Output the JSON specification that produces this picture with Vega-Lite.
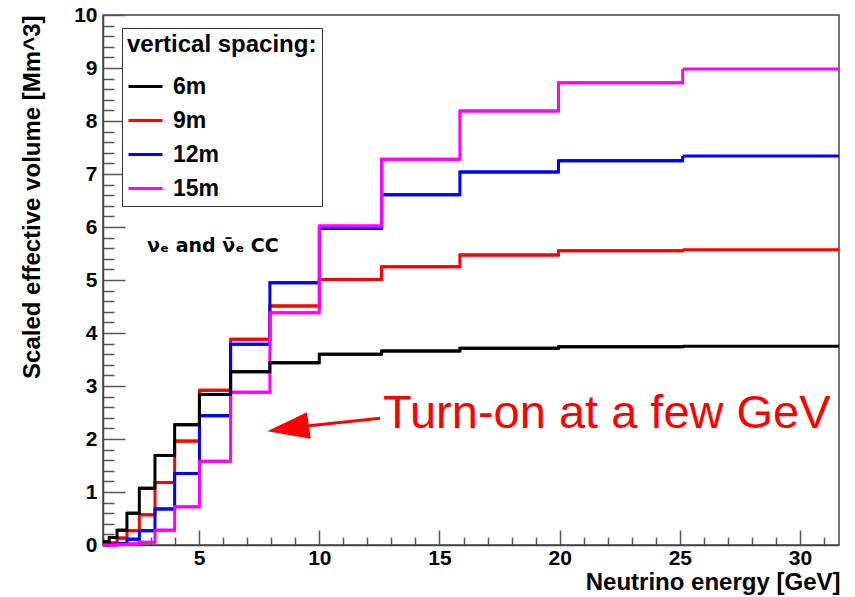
{
  "$schema": "https://vega.github.io/schema/vega-lite/v6.json",
  "width": 736,
  "height": 530,
  "autosize": {"type": "none"},
  "padding": {"left": 103, "top": 15, "right": 16, "bottom": 52},
  "background": "white",
  "config": {"font": "Liberation Sans", "view": {"stroke": "#444", "strokeWidth": 1.5}},
  "datasets": {
    "hist": [
      {"s": "9m", "lo": 1, "hi": 1.2589, "v": 0.01},
      {"s": "9m", "lo": 1.2589, "hi": 1.5849, "v": 0.04},
      {"s": "9m", "lo": 1.5849, "hi": 1.9953, "v": 0.13},
      {"s": "9m", "lo": 1.9953, "hi": 2.5119, "v": 0.27},
      {"s": "9m", "lo": 2.5119, "hi": 3.1623, "v": 0.57},
      {"s": "9m", "lo": 3.1623, "hi": 3.9811, "v": 1.18},
      {"s": "9m", "lo": 3.9811, "hi": 5.0119, "v": 1.96},
      {"s": "9m", "lo": 5.0119, "hi": 6.3096, "v": 2.92},
      {"s": "9m", "lo": 6.3096, "hi": 7.9433, "v": 3.88},
      {"s": "9m", "lo": 7.9433, "hi": 10, "v": 4.51},
      {"s": "9m", "lo": 10, "hi": 12.589, "v": 5.01},
      {"s": "9m", "lo": 12.589, "hi": 15.849, "v": 5.25},
      {"s": "9m", "lo": 15.849, "hi": 19.953, "v": 5.47},
      {"s": "9m", "lo": 19.953, "hi": 25.119, "v": 5.55},
      {"s": "9m", "lo": 25.119, "hi": 31.623, "v": 5.57},
      {"s": "12m", "lo": 1, "hi": 1.2589, "v": 0.0},
      {"s": "12m", "lo": 1.2589, "hi": 1.5849, "v": 0.01},
      {"s": "12m", "lo": 1.5849, "hi": 1.9953, "v": 0.03},
      {"s": "12m", "lo": 1.9953, "hi": 2.5119, "v": 0.11},
      {"s": "12m", "lo": 2.5119, "hi": 3.1623, "v": 0.27},
      {"s": "12m", "lo": 3.1623, "hi": 3.9811, "v": 0.68},
      {"s": "12m", "lo": 3.9811, "hi": 5.0119, "v": 1.35},
      {"s": "12m", "lo": 5.0119, "hi": 6.3096, "v": 2.44},
      {"s": "12m", "lo": 6.3096, "hi": 7.9433, "v": 3.79},
      {"s": "12m", "lo": 7.9433, "hi": 10, "v": 4.95},
      {"s": "12m", "lo": 10, "hi": 12.589, "v": 5.97},
      {"s": "12m", "lo": 12.589, "hi": 15.849, "v": 6.61},
      {"s": "12m", "lo": 15.849, "hi": 19.953, "v": 7.04},
      {"s": "12m", "lo": 19.953, "hi": 25.119, "v": 7.25},
      {"s": "12m", "lo": 25.119, "hi": 31.623, "v": 7.34},
      {"s": "15m", "lo": 1, "hi": 1.2589, "v": 0.0},
      {"s": "15m", "lo": 1.2589, "hi": 1.5849, "v": 0.0},
      {"s": "15m", "lo": 1.5849, "hi": 1.9953, "v": 0.01},
      {"s": "15m", "lo": 1.9953, "hi": 2.5119, "v": 0.02},
      {"s": "15m", "lo": 2.5119, "hi": 3.1623, "v": 0.05},
      {"s": "15m", "lo": 3.1623, "hi": 3.9811, "v": 0.28},
      {"s": "15m", "lo": 3.9811, "hi": 5.0119, "v": 0.72},
      {"s": "15m", "lo": 5.0119, "hi": 6.3096, "v": 1.58},
      {"s": "15m", "lo": 6.3096, "hi": 7.9433, "v": 2.88},
      {"s": "15m", "lo": 7.9433, "hi": 10, "v": 4.38},
      {"s": "15m", "lo": 10, "hi": 12.589, "v": 6.02},
      {"s": "15m", "lo": 12.589, "hi": 15.849, "v": 7.28},
      {"s": "15m", "lo": 15.849, "hi": 19.953, "v": 8.19},
      {"s": "15m", "lo": 19.953, "hi": 25.119, "v": 8.72},
      {"s": "15m", "lo": 25.119, "hi": 31.623, "v": 8.98},
      {"s": "6m", "lo": 1, "hi": 1.2589, "v": 0.06},
      {"s": "6m", "lo": 1.2589, "hi": 1.5849, "v": 0.14},
      {"s": "6m", "lo": 1.5849, "hi": 1.9953, "v": 0.28},
      {"s": "6m", "lo": 1.9953, "hi": 2.5119, "v": 0.6},
      {"s": "6m", "lo": 2.5119, "hi": 3.1623, "v": 1.07},
      {"s": "6m", "lo": 3.1623, "hi": 3.9811, "v": 1.69},
      {"s": "6m", "lo": 3.9811, "hi": 5.0119, "v": 2.27},
      {"s": "6m", "lo": 5.0119, "hi": 6.3096, "v": 2.84},
      {"s": "6m", "lo": 6.3096, "hi": 7.9433, "v": 3.27},
      {"s": "6m", "lo": 7.9433, "hi": 10, "v": 3.44},
      {"s": "6m", "lo": 10, "hi": 12.589, "v": 3.6},
      {"s": "6m", "lo": 12.589, "hi": 15.849, "v": 3.66},
      {"s": "6m", "lo": 15.849, "hi": 19.953, "v": 3.71},
      {"s": "6m", "lo": 19.953, "hi": 25.119, "v": 3.74},
      {"s": "6m", "lo": 25.119, "hi": 31.623, "v": 3.75}
    ],
    "arrowLine": [{"x": 12.53, "y": 2.39, "x2": 9.57, "y2": 2.25}],
    "arrowHead": [{"x": 8.7, "y": 2.2}],
    "redNote": [{"x": 12.65, "y": 2.2, "t": "Turn-on at a few GeV"}],
    "nuNote": [{"x": 2.83, "y": 5.52, "t": "νₑ and ν̄ₑ CC"}]
  },
  "layer": [
    {
      "data": {"name": "hist"},
      "mark": {"type": "rule", "strokeWidth": 3},
      "encoding": {
        "x": {
          "field": "lo", "type": "quantitative", "title": "Neutrino energy [GeV]",
          "scale": {"domain": [1, 31.623], "nice": false, "zero": false},
          "axis": {
            "values": [1,2,3,4,5,6,7,8,9,10,11,12,13,14,15,16,17,18,19,20,21,22,23,24,25,26,27,28,29,30,31],
            "tickCount": 200,
            "labelExpr": "datum.value % 5 === 0 ? format(datum.value, 'd') : ''",
            "tickSize": {"condition": {"test": "datum.value % 5 === 0", "value": -15}, "value": -8},
            "labelFontSize": 21,
            "labelPadding": 17,
            "labelFontWeight": "bold", "labelColor": "#000",
            "labelOverlap": false, "labelFlush": false,
            "tickColor": "#555", "tickWidth": 1.5,
            "domainColor": "#444", "domainWidth": 1.5,
            "grid": false,
            "titleFontSize": 24, "titleFontWeight": "bold", "titleColor": "#000",
            "titleX": 737, "titleY": 44, "titleAlign": "right", "titleBaseline": "alphabetic"
          }
        },
        "x2": {"field": "hi"},
        "y": {
          "field": "v", "type": "quantitative", "title": "Scaled effective volume [Mm^3]",
          "scale": {"domain": [0, 10], "nice": false},
          "axis": {
            "values": [0,0.2,0.4,0.6,0.8,1,1.2,1.4,1.6,1.8,2,2.2,2.4,2.6,2.8,3,3.2,3.4,3.6,3.8,4,4.2,4.4,4.6,4.8,5,5.2,5.4,5.6,5.8,6,6.2,6.4,6.6,6.8,7,7.2,7.4,7.6,7.8,8,8.2,8.4,8.6,8.8,9,9.2,9.4,9.6,9.8,10],
            "tickCount": 200,
            "labelExpr": "abs(datum.value - round(datum.value)) < 0.01 ? format(datum.value, 'd') : ''",
            "tickSize": {"condition": {"test": "abs(datum.value - round(datum.value)) < 0.01", "value": -22}, "value": -11},
            "labelFontSize": 21,
            "labelPadding": 28,
            "labelFontWeight": "bold", "labelColor": "#000",
            "labelOverlap": false, "labelFlush": false,
            "tickColor": "#555", "tickWidth": 1.5,
            "domainColor": "#444", "domainWidth": 1.5,
            "grid": false,
            "titleFontSize": 24, "titleFontWeight": "bold", "titleColor": "#000",
            "titleX": -64, "titleY": 0, "titleAngle": -90, "titleAlign": "right", "titleBaseline": "alphabetic"
          }
        },
        "color": {
          "field": "s", "type": "nominal",
          "scale": {"domain": ["6m", "9m", "12m", "15m"], "range": ["#000000", "#ff0000", "#0000ff", "#ff00ff"]},
          "legend": {
            "orient": "none", "legendX": 19, "legendY": 13, "direction": "vertical",
            "title": "vertical spacing:  ", "titleFontSize": 24, "titleFontWeight": "bold", "titleColor": "#000", "titlePadding": 11, "titleLimit": 500,
            "labelFontSize": 23, "labelFontWeight": "bold", "labelColor": "#000", "labelOffset": 9,
            "symbolType": "stroke", "symbolSize": 1156, "symbolStrokeWidth": 3,
            "rowPadding": 3, "padding": 5, "strokeColor": "#333", "fillColor": "white"
          }
        }
      }
    },
    {
      "data": {"name": "hist"},
      "mark": {"type": "line", "interpolate": "step-after", "strokeWidth": 3},
      "encoding": {
        "x": {"field": "lo", "type": "quantitative", "title": "Neutrino energy [GeV]"},
        "y": {"field": "v", "type": "quantitative", "title": "Scaled effective volume [Mm^3]"},
        "color": {"field": "s", "type": "nominal"}
      }
    },
    {
      "data": {"name": "arrowLine"},
      "mark": {"type": "rule", "color": "#ff0000", "strokeWidth": 3},
      "encoding": {
        "x": {"field": "x", "type": "quantitative", "title": "Neutrino energy [GeV]"},
        "y": {"field": "y", "type": "quantitative", "title": "Scaled effective volume [Mm^3]"},
        "x2": {"field": "x2"},
        "y2": {"field": "y2"}
      }
    },
    {
      "data": {"name": "arrowHead"},
      "mark": {"type": "point", "shape": "M-1,0L1,-0.64L1,0.64Z", "filled": true, "color": "#ff0000", "opacity": 1, "size": 1764, "angle": 352},
      "encoding": {
        "x": {"field": "x", "type": "quantitative", "title": "Neutrino energy [GeV]"},
        "y": {"field": "y", "type": "quantitative", "title": "Scaled effective volume [Mm^3]"}
      }
    },
    {
      "data": {"name": "redNote"},
      "mark": {"type": "text", "align": "left", "baseline": "alphabetic", "fontSize": 47, "color": "#ff0000", "font": "Liberation Sans"},
      "encoding": {
        "x": {"field": "x", "type": "quantitative", "title": "Neutrino energy [GeV]"},
        "y": {"field": "y", "type": "quantitative", "title": "Scaled effective volume [Mm^3]"},
        "text": {"field": "t"}
      }
    },
    {
      "data": {"name": "nuNote"},
      "mark": {"type": "text", "align": "left", "baseline": "alphabetic", "fontSize": 19, "fontWeight": "bold", "color": "#000", "font": "DejaVu Sans"},
      "encoding": {
        "x": {"field": "x", "type": "quantitative", "title": "Neutrino energy [GeV]"},
        "y": {"field": "y", "type": "quantitative", "title": "Scaled effective volume [Mm^3]"},
        "text": {"field": "t"}
      }
    }
  ]
}
